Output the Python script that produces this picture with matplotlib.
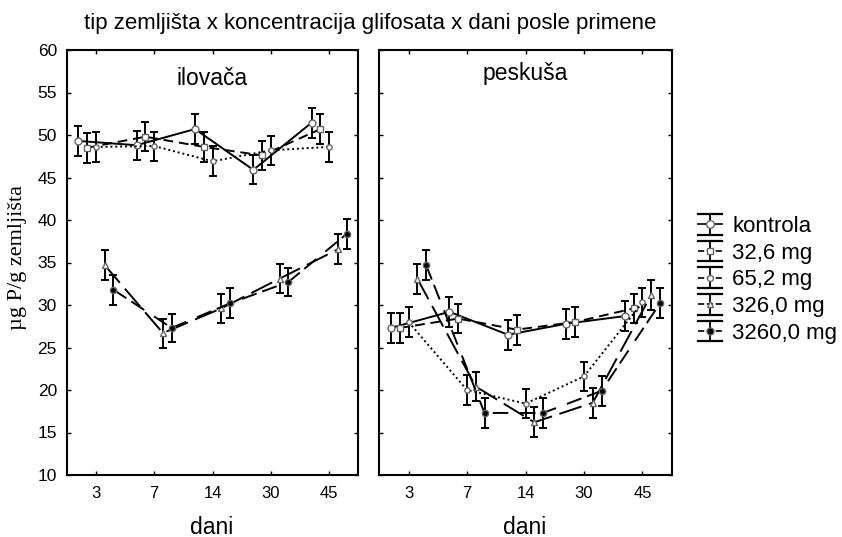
import numpy as np
import matplotlib
matplotlib.use('Agg')
import matplotlib.pyplot as plt
from matplotlib.lines import Line2D
from matplotlib.legend_handler import HandlerBase

plt.rcParams['font.family'] = ['Liberation Sans', 'DejaVu Sans']

days = ['3', '7', '14', '30', '45']
series = ['kontrola', '32,6 mg', '65,2 mg', '326,0 mg', '3260,0 mg']

# ilovaca
ilo_kontrola = [49.3, 48.8, 50.7, 45.9, 51.45]
ilo_326 = [48.5, 49.8, 48.6, 47.6, 50.7]
ilo_652 = [48.6, 48.7, 46.9, 48.2, 48.6]
ilo_3260 = [34.7, 26.7, 29.6, 33.1, 36.55]
ilo_32600 = [31.8, 27.3, 30.2, 32.7, 38.35]

# peskusa
pes_kontrola = [27.3, 29.2, 26.5, 27.8, 28.7]
pes_326 = [27.3, 28.4, 27.1, 28.0, 29.6]
pes_652 = [28.0, 20.0, 18.4, 21.6, 30.3]
pes_3260 = [33.1, 20.4, 16.2, 18.5, 31.2]
pes_32600 = [34.7, 17.3, 17.3, 19.9, 30.2]

# error (half-width of bars)
ilo_err = [1.75, 1.7, 1.75, 1.7, 1.75]
pes_err = [1.75, 1.75, 1.75, 1.75, 1.75]

ilo = [ilo_kontrola, ilo_326, ilo_652, ilo_3260, ilo_32600]
pes = [pes_kontrola, pes_326, pes_652, pes_3260, pes_32600]

styles = [
    dict(ls='-', marker='o', mfc='white', ms=5),
    dict(ls=(0, (5, 3)), marker='s', mfc='white', ms=4.5),
    dict(ls=(0, (1, 1.5)), marker='o', mfc='white', ms=3.8),
    dict(ls=(0, (12, 4)), marker='^', mfc='white', ms=4),
    dict(ls=(0, (8, 3, 8, 6)), marker='o', mfc='black', ms=4.5),
]
offsets = [-0.3, -0.15, 0.0, 0.15, 0.3]


class ErrHandler(HandlerBase):
    def create_artists(self, legend, orig_handle, xdescent, ydescent,
                       width, height, fontsize, trans):
        x0 = -xdescent
        x1 = x0 + width
        xc = (x0 + x1) / 2
        b = -ydescent
        t = b + height
        yc = (b + t) / 2
        arts = [
            Line2D([x0, x1], [t, t], color='black', lw=1.6),
            Line2D([x0, x1], [b, b], color='black', lw=1.6),
            Line2D([xc, xc], [b, t], color='black', lw=1.3),
            Line2D([x0, x1], [yc, yc], color='black', lw=1.2,
                   linestyle=orig_handle.get_linestyle()),
            Line2D([xc], [yc], marker=orig_handle.get_marker(),
                   mfc=orig_handle.get_markerfacecolor(), mec='#666666',
                   ms=orig_handle.get_markersize(), ls='none'),
        ]
        for a in arts:
            a.set_transform(trans)
        return arts


fig = plt.figure(figsize=(8.42, 5.37), dpi=100)
W, H = 842, 537
ax1 = fig.add_axes([66.7 / W, 1 - 475 / H, 291.6 / W, 425 / H])
ax2 = fig.add_axes([379.3 / W, 1 - 475 / H, 292.4 / W, 425 / H])

x = np.arange(1, 6)
for ax, data, err in [(ax1, ilo, ilo_err), (ax2, pes, pes_err)]:
    for i, vals in enumerate(data):
        st = styles[i]
        ax.errorbar(x + offsets[i], vals, yerr=err, color='black',
                    linestyle=st['ls'], lw=1.4, marker=st['marker'],
                    mfc=st['mfc'], mec='#666666', ms=st['ms'],
                    ecolor='black', elinewidth=1.4, capsize=2.8, capthick=1.4,
                    zorder=3)
    ax.set_xlim(0.5, 5.5)
    ax.set_ylim(10, 60)
    ax.set_xticks(x)
    ax.set_xticklabels(days)
    ax.set_yticks(np.arange(10, 61, 5))
    ax.tick_params(direction='in', length=3, width=1, top=True, right=True,
                   labelsize=12, pad=8)
    for s in ax.spines.values():
        s.set_linewidth(1.5)

ax2.tick_params(labelleft=False)
ax1.tick_params(axis='y', pad=7, labelsize=12.5)

ax1.text(0.5, (475 - 85) / 425, 'ilovača', transform=ax1.transAxes,
         ha='center', va='baseline', fontsize=16.5)
ax2.text(0.5, (475 - 80) / 425, 'peskuša', transform=ax2.transAxes,
         ha='center', va='baseline', fontsize=16.5)

fig.text(370.5 / W, 1 - 24 / H,
         'tip zemljišta x koncentracija glifosata x dani posle primene',
         ha='center', va='center', fontsize=16)
fig.text(212 / W, 1 - 527 / H, 'dani', ha='center', va='center', fontsize=16.5)
fig.text(525 / W, 1 - 527 / H, 'dani', ha='center', va='center', fontsize=16.5)
fig.text(18 / W, 1 - 258 / H, 'µg P/g zemljišta', rotation=90,
         ha='center', va='center', fontsize=16,
         family=['Liberation Serif', 'DejaVu Serif'])

handles = [Line2D([], [], linestyle=st['ls'], marker=st['marker'],
                  mfc=st['mfc'], ms=st['ms'] + 0.5) for st in styles]
fig.legend(handles, series, handler_map={Line2D: ErrHandler()},
           loc='upper left', bbox_to_anchor=(698 / W, 1 - 214 / H),
           frameon=False, fontsize=16, handlelength=1.1, handleheight=1.05,
           labelspacing=0.17, handletextpad=0.45, borderpad=0,
           borderaxespad=0)

fig.savefig('out.png', dpi=100)
